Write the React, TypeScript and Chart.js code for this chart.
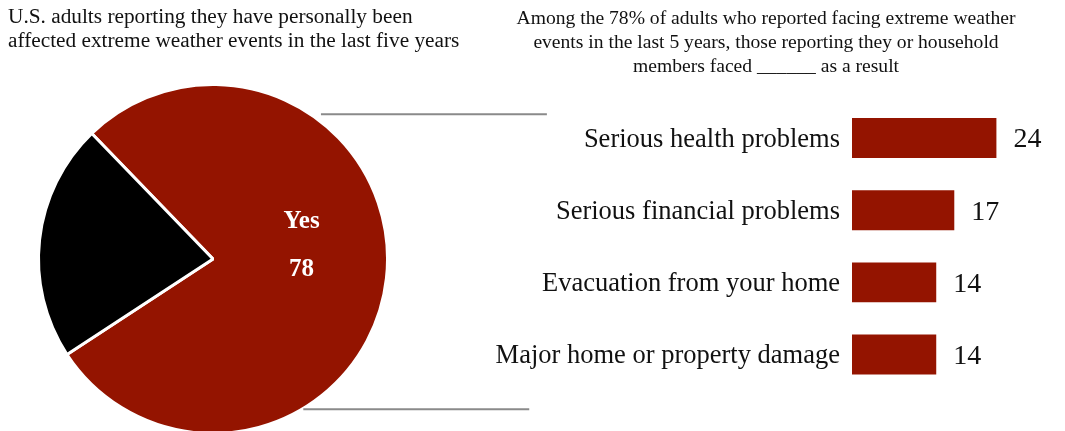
import React, { useEffect, useRef } from 'react';
import { Chart, registerables } from 'chart.js';

Chart.register(...registerables);

// ---- data ----
const pieLabels = ['Yes', 'No'];
const pieValues = [78, 22];
const pieColors = ['#941400', '#000000'];
const pieTitle = [
  'U.S. adults reporting they have personally been',
  'affected extreme weather events in the last five years',
];

const barCategories = [
  'Serious health problems',
  'Serious financial problems',
  'Evacuation from your home',
  'Major home or property damage',
];
const barValues = [24, 17, 14, 14];
const barTitle = [
  'Among the 78% of adults who reported facing extreme weather',
  'events in the last 5 years, those reporting they or household',
  'members faced ______ as a result',
];

const SERIF = '"Liberation Serif", "Times New Roman", Times, serif';
const RED = '#941400';
const TEXT = '#111111';

const pieDecor = {
  id: 'pieDecor',
  beforeDraw(chart: any) {
    const ctx = chart.ctx;
    ctx.save();
    ctx.fillStyle = TEXT;
    ctx.font = `21.3px ${SERIF}`;
    ctx.textAlign = 'left';
    ctx.textBaseline = 'middle';
    pieTitle.forEach((line, i) => {
      ctx.fillText(line, 0, 17.8 + i * 23.4);
    });
    ctx.restore();
  },
  afterDatasetsDraw(chart: any) {
    const arc = chart.getDatasetMeta(0).data[0] as any;
    if (!arc) return;
    const { x, y, outerRadius } = arc.getProps(['x', 'y', 'outerRadius'], true);
    const r = outerRadius - 1.5;
    const ctx = chart.ctx;
    ctx.save();
    ctx.fillStyle = '#ffffff';
    ctx.font = `bold 25px ${SERIF}`;
    ctx.textAlign = 'center';
    ctx.textBaseline = 'middle';
    ctx.fillText(pieLabels[0], x + 0.512 * r, y - 37);
    ctx.fillText(String(pieValues[0]), x + 0.512 * r, y + 11);
    // connector lines toward the bar chart
    ctx.strokeStyle = '#8a8a8a';
    ctx.lineWidth = 2;
    ctx.beginPath();
    ctx.moveTo(x + 0.624 * r, y - 0.836 * r);
    ctx.lineTo(x + 1.93 * r, y - 0.836 * r);
    ctx.moveTo(x + 0.522 * r, y + 0.869 * r);
    ctx.lineTo(x + 1.828 * r, y + 0.869 * r);
    ctx.stroke();
    ctx.restore();
  },
};

const barValueLabels = {
  id: 'barValueLabels',
  afterDatasetsDraw(chart: any) {
    const meta = chart.getDatasetMeta(0);
    const ctx = chart.ctx;
    ctx.save();
    ctx.fillStyle = TEXT;
    ctx.font = `28px ${SERIF}`;
    ctx.textAlign = 'left';
    ctx.textBaseline = 'middle';
    meta.data.forEach((bar: any, i: number) => {
      const { x, y } = bar.getProps(['x', 'y'], true);
      ctx.fillText(String(barValues[i]), x + 17, y + 2);
    });
    ctx.restore();
  },
};

export default function App() {
  const pieRef = useRef<HTMLCanvasElement>(null);
  const barRef = useRef<HTMLCanvasElement>(null);

  useEffect(() => {
    const pie = new Chart(pieRef.current as HTMLCanvasElement, {
      type: 'pie',
      data: {
        labels: pieLabels,
        datasets: [
          {
            data: pieValues,
            backgroundColor: pieColors,
            borderColor: '#ffffff',
            borderWidth: 3,
            clip: false as any,
          },
        ],
      },
      options: {
        animation: false,
        responsive: false,
        rotation: -44,
        radius: 174.5,
        layout: { padding: { top: 87, right: 190, bottom: 0, left: 0 } },
        plugins: {
          legend: { display: false },
          tooltip: { enabled: false },
          title: { display: false },
        },
      } as any,
      plugins: [pieDecor],
    });

    const bar = new Chart(barRef.current as HTMLCanvasElement, {
      type: 'bar',
      data: {
        labels: barCategories,
        datasets: [
          {
            data: barValues,
            backgroundColor: RED,
            borderWidth: 0,
            barPercentage: 0.554,
            categoryPercentage: 1,
          },
        ],
      },
      options: {
        animation: false,
        responsive: false,
        indexAxis: 'y',
        layout: { padding: { top: 0, right: 0, bottom: 40.4, left: 0 } },
        plugins: {
          legend: { display: false },
          tooltip: { enabled: false },
          title: {
            display: true,
            text: barTitle,
            color: TEXT,
            font: { family: SERIF, size: 19.6, weight: 'normal', lineHeight: 1.224 },
            padding: { top: 6.4, bottom: 23.6 },
          },
        },
        scales: {
          x: { display: false, min: 0, max: 35.4 },
          y: {
            grid: { display: false, drawTicks: false },
            border: { display: false },
            ticks: {
              color: TEXT,
              font: { family: SERIF, size: 26.5 },
              padding: 12,
              labelOffset: 1.5,
            },
            afterFit: (s: any) => {
              s.width = 385;
            },
          },
        },
      } as any,
      plugins: [barValueLabels],
    });

    return () => {
      pie.destroy();
      bar.destroy();
    };
  }, []);

  return (
    <div
      style={{
        position: 'absolute',
        left: 0,
        top: 0,
        width: 1065,
        height: 431,
        overflow: 'hidden',
        background: '#ffffff',
      }}
    >
      <canvas
        ref={pieRef}
        width={600}
        height={431}
        style={{ position: 'absolute', left: 8, top: 0, width: 600, height: 431 }}
      />
      <canvas
        ref={barRef}
        width={598}
        height={431}
        style={{ position: 'absolute', left: 467, top: 0, width: 598, height: 431 }}
      />
    </div>
  );
}
